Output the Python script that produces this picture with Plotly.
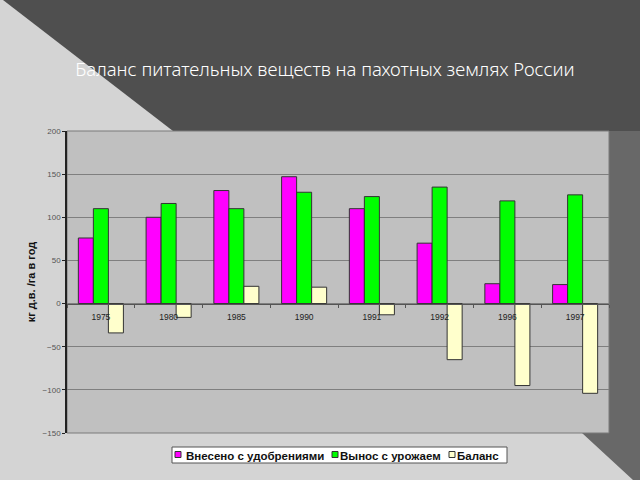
import plotly.graph_objects as go

years = ["1975", "1980", "1985", "1990", "1991", "1992", "1996", "1997"]
applied = [76, 100, 131, 147, 110, 70, 23, 22]
removed = [110, 116, 110, 129, 124, 135, 119, 126]
balance = [-34, -16, 20, 19, -13, -65, -95, -104]
y_ticks = [200, 150, 100, 50, 0, -50, -100, -150]
series_names = ["Внесено с удобрениями", "Вынос с урожаем", "Баланс"]
colors = ["#ff00ff", "#00ff00", "#ffffcc"]

W, H = 640, 480
L, R, T, B = 67, 609, 131, 433


def px(x):
    return (x - L) / (R - L)


def py(y):
    return (B - y) / (B - T)


fig = go.Figure()
for name, vals, c in zip(series_names, [applied, removed, balance], colors):
    fig.add_trace(go.Bar(x=years, y=vals, name=name, marker_color=c,
                         marker_line_color="#333333", marker_line_width=1,
                         showlegend=False))

# background shapes
top_dark = [(3, 0), (640, 0), (640, 131), (173, 131)]
right_dark = [(609, 131), (640, 131), (640, 480), (633, 480), (582, 433), (609, 433)]


def path(pts):
    return "M " + " L ".join(f"{px(x):.5f},{py(y):.5f}" for x, y in pts) + " Z"


shapes = [
    dict(type="path", xref="paper", yref="paper", path=path(top_dark),
         fillcolor="#4f4f4f", line_width=0, layer="below"),
    dict(type="path", xref="paper", yref="paper", path=path(right_dark),
         fillcolor="#686868", line_width=0, layer="below"),
    dict(type="rect", xref="paper", yref="paper", x0=0, x1=1, y0=0, y1=1,
         line=dict(color="#7a7a7a", width=1), fillcolor="rgba(0,0,0,0)", layer="below"),
]

# legend box (drawn manually to match the compact original legend)
annotations = []
shapes.append(dict(type="rect", xref="paper", yref="paper",
                   x0=px(172), x1=px(507), y0=py(463), y1=py(447),
                   fillcolor="#ffffff", line=dict(color="#555555", width=1)))
sq_x = [175, 332, 449]
tx_x = [184, 338, 455]
for name, c, sx, tx in zip(series_names, colors, sq_x, tx_x):
    shapes.append(dict(type="rect", xref="paper", yref="paper",
                       x0=px(sx), x1=px(sx + 6), y0=py(457.5), y1=py(451.5),
                       fillcolor=c, line=dict(color="#333333", width=1)))
    annotations.append(dict(text=name, xref="paper", yref="paper", x=px(tx), y=py(455.5),
                            xanchor="left", yanchor="middle", showarrow=False,
                            font=dict(size=11.5, color="#111111", family="Liberation Sans, Arial",
                                      weight="bold")))

zero_pos = (0 - y_ticks[-1]) / (y_ticks[0] - y_ticks[-1])

fig.update_layout(
    width=W, height=H,
    margin=dict(l=L, r=W - R, t=T, b=H - B, autoexpand=False),
    paper_bgcolor="#d4d4d4",
    plot_bgcolor="#c0c0c0",
    barmode="group", bargap=0.335, bargroupgap=0,
    shapes=shapes,
    annotations=annotations,
    showlegend=False,
    font=dict(family="Liberation Sans, Arial", color="#222222"),
    xaxis=dict(type="category", anchor="free", position=zero_pos,
               showline=True, linecolor="#555555", linewidth=1,
               ticks="outside", ticklen=3, tickcolor="#555555", tickson="boundaries",
               ticklabelstandoff=5,
               tickfont=dict(size=8.5, color="#222222"), showgrid=False),
    yaxis=dict(range=[y_ticks[-1], y_ticks[0]], tickvals=y_ticks, showgrid=True,
               gridcolor="#7f7f7f", gridwidth=1, zeroline=False,
               showline=True, linecolor="#222222", linewidth=1.5,
               ticks="outside", ticklen=3, tickcolor="#222222",
               tickfont=dict(size=8, color="#555555"),
               title=dict(text="кг д.в. /га в год",
                          font=dict(size=11, color="#111111", family="Liberation Sans, Arial",
                                    weight="bold"), standoff=5)),
    title=dict(text="Баланс питательных веществ на пахотных землях России",
               xref="container", x=325 / W, xanchor="center",
               y=1 - 70 / H, yanchor="middle",
               font=dict(family="Noto Sans", size=18.5, color="#ffffff", weight=300)),
)

fig.write_html("out.html")
